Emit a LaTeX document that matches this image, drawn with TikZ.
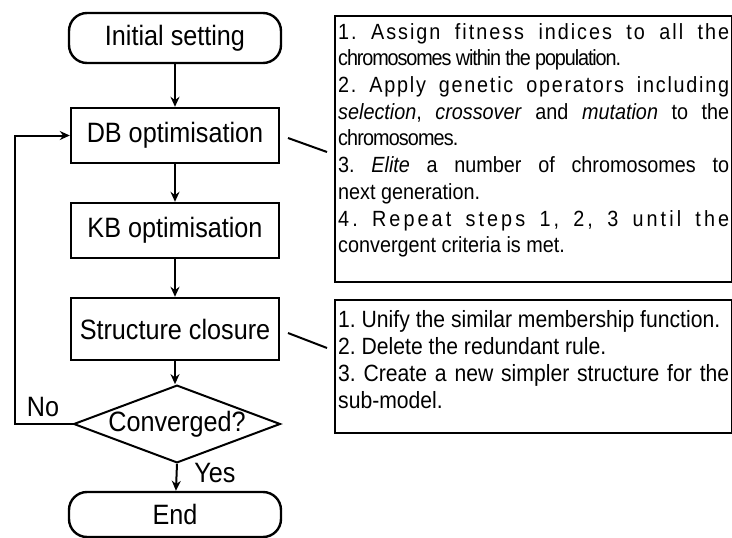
\documentclass[tikz,border=0pt]{standalone}
\usepackage{fontspec}
\setmainfont{Liberation Sans}[FakeStretch=0.9]
\usepackage{tikz}
\usetikzlibrary{arrows.meta, shapes.geometric}
\setlength{\parindent}{0pt}
\frenchspacing

% letter-spaced run of text
\newcommand{\spread}[2]{{\addfontfeature{LetterSpace=#1}#2}}

\tikzset{
  terminal/.style={draw, line width=2.4pt, rounded corners=18pt,
    minimum width=212pt, minimum height=50pt, font=\fontsize{28}{32}\selectfont},
  process/.style={draw, line width=2.4pt,
    minimum width=208pt, minimum height=55pt, font=\fontsize{28}{32}\selectfont},
  decision/.style={draw, diamond, line width=2pt, aspect=2.66, inner sep=0pt,
    minimum width=197pt, minimum height=74pt, font=\fontsize{28}{32}\selectfont},
  note/.style={draw, line width=2.4pt, anchor=north west, inner xsep=3pt},
  arr/.style={line width=2pt, -{Stealth[length=10pt, width=9pt]}},
  tag/.style={font=\fontsize{28}{32}\selectfont},
}

\begin{document}
\begin{tikzpicture}[x=1pt, y=-1pt]
    \useasboundingbox (0,0) rectangle (732,538);

    % 1. Main flow, top to bottom
    \node[terminal] (init) at (175,38) {Initial setting};
    \node[process]  (db)   at (175,135.5) {DB optimisation};
    \node[process]  (kb)   at (175,230.5) {KB optimisation};
    \node[process, minimum height=62pt] (sc) at (175,329) {Structure closure};
    \node[decision] (conv) at (177,424) {Converged?};
    \node[terminal, minimum height=45pt] (end) at (175,514.5) {End};

    \draw[arr] (init) -- (db);
    \draw[arr] (db) -- (kb);
    \draw[arr] (kb) -- (sc);
    \draw[arr] (sc) -- (sc |- conv.north);
    \draw[arr] (conv.south) -- (end);

    % 2. Loop back when not converged
    \coordinate (loop) at (15,424);
    \draw[arr] (conv.west) -- (loop) |- (db.west);
    \node[tag] (no)  at (43,407)  {No};
    \node[tag] (yes) at (215,473) {Yes};

    % 3. Notes on the right
    \node[note, inner ysep=7pt] (gaNote) at (334,15) {%
      \begin{minipage}[t][252pt][t]{391pt}
      \fontsize{22}{26.7}\selectfont\tolerance=9999
      \spread{9}{1. Assign fitness indices to all the}\linebreak
      \spread{-5}{chromosomes within the population.}\par
      \spread{8}{2. Apply genetic operators including}\linebreak
      \textit{selection}, \textit{crossover} and \textit{mutation} to the\linebreak
      \spread{-4}{chromosomes.}\par
      3. \textit{Elite} a number of chromosomes to\linebreak
      next generation.\par
      \spread{14}{4. Repeat steps 1, 2, 3 until the}\linebreak
      convergent criteria is met.
      \end{minipage}};

    \node[note, inner ysep=10pt] (scNote) at (334,299) {%
      \begin{minipage}[t][113pt][t]{391pt}
      \fontsize{23.5}{27}\selectfont\tolerance=9999
      1. Unify the similar membership function.\par
      2. Delete the redundant rule.\par
      3. Create a new simpler structure for the\linebreak
      sub-model.
      \end{minipage}};

    % 4. Callout strokes from the boxes to their notes
    \coordinate (dbTip)   at (288,138);
    \coordinate (gaTip)   at (327,152);
    \coordinate (scTip)   at (288,333);
    \coordinate (noteTip) at (327,348);
    \draw[line width=2pt] (dbTip) -- (gaTip);
    \draw[line width=2pt] (scTip) -- (noteTip);

\end{tikzpicture}
\end{document}
